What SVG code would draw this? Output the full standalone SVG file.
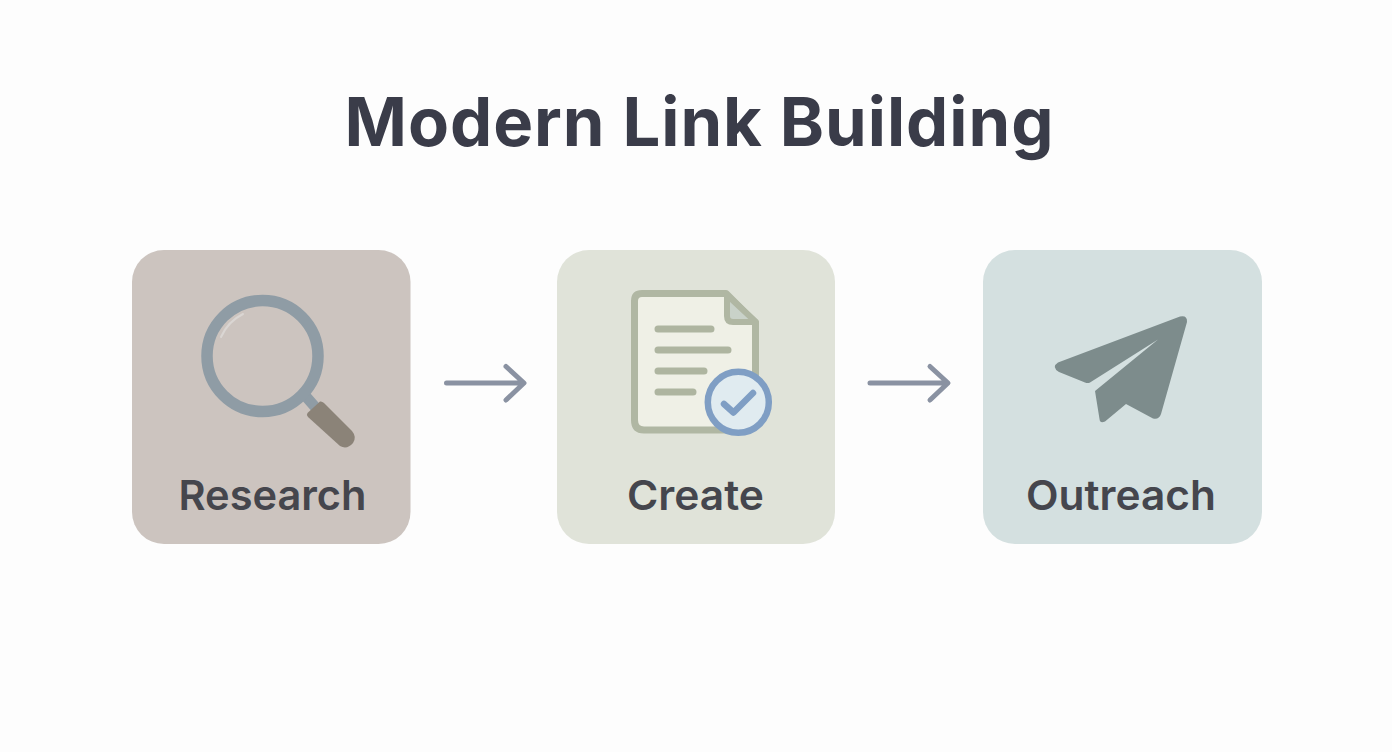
<svg xmlns="http://www.w3.org/2000/svg" width="1392" height="752" viewBox="0 0 1392 752">
<style>
.label{font-family:"Inter","Liberation Sans",sans-serif;font-weight:600;font-size:41px;fill:#45464d;text-anchor:middle}
.title{font-family:"Inter","Liberation Sans",sans-serif;font-weight:700;font-size:67px;fill:#3a3c49;text-anchor:middle}
.card{stroke:none}
.arrow{fill:none;stroke:#8a92a2;stroke-width:5;stroke-linecap:round;stroke-linejoin:round}
.docline{stroke:#aeb5a0;stroke-width:7;stroke-linecap:round}
</style>
<rect width="1392" height="752" fill="#fdfdfd"/>
<text id="title" class="title" x="699" y="146" textLength="709" lengthAdjust="spacing">Modern Link Building</text>
<g id="connectors">
<path class="arrow" d="M446.500 383H523.500M506 366.500L524 383L506 400"/>
<path class="arrow" d="M870 383H947.500M930 366.500L948 383L930 400"/>
</g>
<g id="research">
<rect class="card" x="132" y="250" width="278.500" height="294" rx="32" fill="#ccc4bf"/>
<path d="M302 392L316 408" stroke="#8f9ca5" stroke-width="11" fill="none"/>
<path d="M307.500 413L320 401.500Q322 401 324 403L352 431Q357 437 353 443Q347 450 340 446L308 417Q306 415 307.500 413Z" fill="#8b8378"/>
<circle cx="262.500" cy="356" r="55.500" fill="none" stroke="#8f9ca5" stroke-width="11.500"/>
<path d="M221 337A47 47 0 0 1 243 314" fill="none" stroke="#dad6d3" stroke-width="2" stroke-linecap="round"/>
<text class="label" x="272.500" y="510" textLength="188" lengthAdjust="spacingAndGlyphs">Research</text>
</g>
<g id="create">
<rect class="card" x="557" y="250" width="278" height="294" rx="32" fill="#e0e3d9"/>
<path d="M642 293.500H726L755.500 323V420Q755.500 430 746 430H644Q634.500 430 634.500 420V301Q634.500 293.500 642 293.500Z" fill="#eff0e6" stroke="#b0b7a3" stroke-width="7" stroke-linejoin="round"/>
<path d="M727 295V316Q727 322 733 322H756Z" fill="#c9d2c9" stroke="#b0b7a3" stroke-width="6" stroke-linejoin="round"/>
<path class="docline" d="M658 329H711M658 350H728M658 371H704M658 392H693"/>
<circle cx="738.300" cy="402.300" r="30.500" fill="#e0ebf0" stroke="#7f9ec4" stroke-width="6.500"/>
<path d="M724 404L733.500 412.500L753 393" fill="none" stroke="#7f9ec4" stroke-width="6.500" stroke-linecap="round" stroke-linejoin="round"/>
<text class="label" x="695.500" y="510" textLength="137" lengthAdjust="spacingAndGlyphs">Create</text>
</g>
<g id="outreach">
<rect class="card" x="983" y="250" width="279" height="294" rx="32" fill="#d4e0e0"/>
<path d="M1180 316.500Q1187.500 315 1187 322L1161 414Q1159 420 1153 418.500L1126 404L1105 421.500Q1100 424 1099.500 419L1095 391L1158 339.500L1090 382.500Q1088 383.500 1085 382.500L1059 372Q1051 367 1058 362.500Z" fill="#7d8c8c"/>
<text class="label" x="1121" y="510" textLength="190" lengthAdjust="spacingAndGlyphs">Outreach</text>
</g>
</svg>
